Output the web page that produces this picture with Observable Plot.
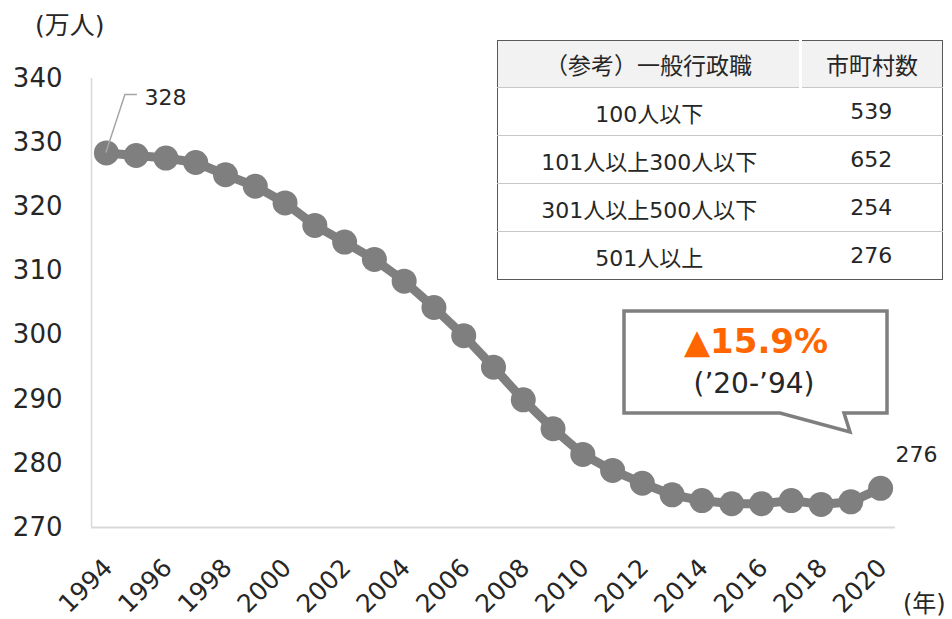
<!DOCTYPE html>
<html><head><meta charset="utf-8">
<script src="https://cdn.jsdelivr.net/npm/d3@7"></script>
<script src="https://cdn.jsdelivr.net/npm/@observablehq/plot@0.6"></script>
<style>
body{margin:0;background:#fff;}
#wrap{position:relative;width:952px;height:619px;overflow:hidden;font-family:"DejaVu Sans","Noto Sans CJK JP",sans-serif;color:#262626;background:#fff;}
#wrap > svg{position:absolute;left:0;top:0;}
.unit{position:absolute;font-size:24px;line-height:1;white-space:nowrap;}
#tbl{position:absolute;left:497px;top:40px;width:445px;border-collapse:collapse;border:1.5px solid #595959;font-size:22px;color:#262626;table-layout:fixed;}
#tbl th{background:#f2f2f2;height:46px;font-weight:normal;text-align:center;padding:0;font-size:23px;}
#tbl th + th{border-left:3px solid #fff;}
#tbl td{height:47px;border-top:1.5px solid #c8c8c8;text-align:center;padding:0;}
#callout{position:absolute;left:0;top:0;pointer-events:none;}
</style></head><body><div id="wrap"></div>
<script>
// ---- data ----
const years = [1994,1995,1996,1997,1998,1999,2000,2001,2002,2003,2004,2005,2006,2007,2008,2009,2010,2011,2012,2013,2014,2015,2016,2017,2018,2019,2020];
const staff = [328.4,328.0,327.6,326.9,325.0,323.2,320.6,317.1,314.5,311.8,308.4,304.3,299.9,295.0,289.9,285.4,281.4,278.9,276.9,275.1,274.2,273.7,273.7,274.2,273.6,274.0,276.1];
const yTicks = [270,280,290,300,310,320,330,340];
const xTicks = [1994,1996,1998,2000,2002,2004,2006,2008,2010,2012,2014,2016,2018,2020];
const tableHeader = ["（参考）一般行政職","市町村数"];
const tableRanges = ["100人以下","101人以上300人以下","301人以上500人以下","501人以上"];
const tableCounts = [539,652,254,276];
const yUnit = "(万人)";
const xUnit = "(年)";
const changeLabel = "▲15.9%";
const changePeriod = "(’20-’94)";

const font = '"DejaVu Sans","Noto Sans CJK JP",sans-serif';
const data = years.map((year,i)=>({year, value: staff[i]}));
const first = data[0], last = data[data.length-1];
const gray = "#7f7f7f";

const plot = Plot.plot({
  width:952, height:619,
  marginLeft:91, marginRight:57, marginTop:78, marginBottom:92,
  style:{fontFamily:font, color:"#262626", background:"transparent", overflow:"visible"},
  x:{domain:[1993.5,2020.5], axis:null},
  y:{domain:[270,340]},
  marks:[
    Plot.ruleX([1993.5],{stroke:"#d9d9d9", strokeWidth:1.5}),
    Plot.ruleY([270],{stroke:"#d9d9d9", strokeWidth:2}),
    Plot.axisY(yTicks,{tickSize:0, tickPadding:29, fontSize:26, fill:"#262626", label:null}),
    Plot.text(xTicks,{x:d=>d, frameAnchor:"bottom", text:d=>String(d), rotate:-45, textAnchor:"end", lineAnchor:"middle", dx:2, dy:36, fontSize:25, fill:"#262626"}),
    Plot.line(data,{x:"year", y:"value", stroke:gray, strokeWidth:9}),
    Plot.dot(data,{x:"year", y:"value", r:12.5, fill:gray}),
    Plot.text([first],{x:"year", y:"value", text:d=>String(Math.round(d.value)), textAnchor:"start", dx:38, dy:-55, fontSize:22, fill:"#262626"}),
    Plot.text([last],{x:"year", y:"value", text:d=>String(Math.round(d.value)), textAnchor:"start", dx:15, dy:-33, fontSize:22, fill:"#262626"})
  ]
});
const wrap = document.getElementById("wrap");
wrap.appendChild(plot);

// leader line for first label, positioned through the plot's scales
const sx = plot.scale("x"), sy = plot.scale("y");
const px = sx.apply(first.year), py = sy.apply(first.value);
d3.select(plot).append("path")
  .attr("d", `M${px},${py}L${px+19},${py-58}L${px+31},${py-58}`)
  .attr("fill","none").attr("stroke","#a6a6a6").attr("stroke-width",1.5);

// unit labels
const u1 = document.createElement("div");
u1.className = "unit"; u1.textContent = yUnit;
u1.style.left = "35px"; u1.style.top = "13px"; u1.style.fontSize = "25px";
wrap.appendChild(u1);
const u2 = document.createElement("div");
u2.className = "unit"; u2.textContent = xUnit;
u2.style.left = "903px"; u2.style.top = "592px";
wrap.appendChild(u2);

// reference table
const tbl = document.createElement("table");
tbl.id = "tbl";
const cg = document.createElement("colgroup");
cg.innerHTML = '<col style="width:303px"><col style="width:142px">';
tbl.appendChild(cg);
const hr = document.createElement("tr");
tableHeader.forEach(h=>{const th=document.createElement("th"); th.textContent=h; hr.appendChild(th);});
tbl.appendChild(hr);
tableRanges.forEach((r,i)=>{
  const tr=document.createElement("tr");
  const a=document.createElement("td"); a.textContent=r;
  const b=document.createElement("td"); b.textContent=String(tableCounts[i]);
  tr.appendChild(a); tr.appendChild(b); tbl.appendChild(tr);
});
wrap.appendChild(tbl);

// callout
const co = d3.select(wrap).append("svg").attr("id","callout").attr("width",952).attr("height",619);
co.append("path")
  .attr("d","M624,311H887V413H844L850,432L780,413H624Z")
  .attr("fill","#fff").attr("stroke",gray).attr("stroke-width",3.5).attr("stroke-linejoin","miter");
co.append("text").attr("x",756).attr("y",353).attr("text-anchor","middle")
  .attr("font-family",font).attr("font-size",34).attr("font-weight","bold").attr("fill","#ff6600")
  .text(changeLabel);
co.append("text").attr("x",754).attr("y",393).attr("text-anchor","middle")
  .attr("font-family",font).attr("font-size",28).attr("fill","#262626")
  .text(changePeriod);
</script>
</body></html>
